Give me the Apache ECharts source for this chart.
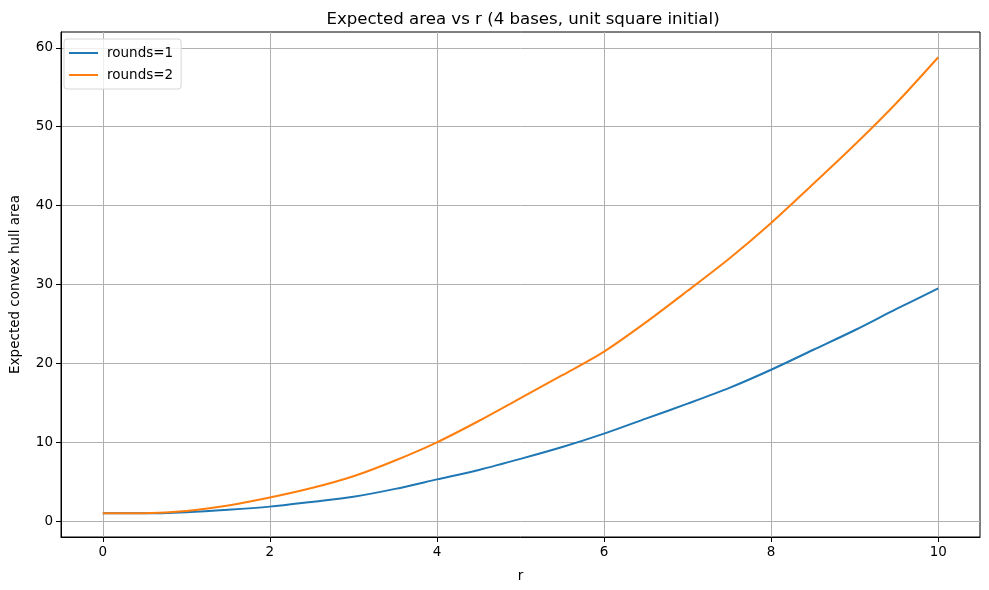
<!DOCTYPE html>
<html>
<head>
<meta charset="utf-8">
<script src="https://cdn.jsdelivr.net/npm/echarts@6/dist/echarts.min.js"></script>
<style>
html,body{margin:0;padding:0;background:#fff;}
#chart{width:989px;height:590px;}
</style>
</head>
<body>
<div id="chart"></div>
<script>
const rValues = [0, 0.5, 1, 1.5, 2, 2.5, 3, 3.5, 4, 4.5, 5, 5.5, 6, 6.5, 7, 7.5, 8, 8.5, 9, 9.5, 10];
const rounds1 = [1.0, 1.0, 1.15, 1.45, 1.85, 2.45, 3.1, 4.1, 5.3, 6.5, 7.9, 9.4, 11.1, 13.0, 14.9, 16.9, 19.2, 21.7, 24.2, 26.9, 29.5];
const rounds2 = [1.0, 1.02, 1.3, 2.0, 3.0, 4.2, 5.7, 7.7, 10.0, 12.7, 15.6, 18.5, 21.5, 25.2, 29.2, 33.3, 37.8, 42.7, 47.7, 53.0, 58.8];
const xTicks = [0, 2, 4, 6, 8, 10];
const yTicks = [0, 10, 20, 30, 40, 50, 60];

const font = 'DejaVu Sans';
const chart = echarts.init(document.getElementById('chart'), null, {renderer: 'canvas'});
const axisCommon = {
  axisLine: {show: true, onZero: false, lineStyle: {color: '#000', width: 1}},
  axisTick: {show: true, inside: false, length: 5, lineStyle: {color: '#000', width: 1}},
  splitLine: {show: true, lineStyle: {color: '#b0b0b0', width: 1}},
  nameTextStyle: {color: '#000', fontFamily: font, fontSize: 13.5}
};
chart.setOption({
  animation: false,
  backgroundColor: '#fff',
  title: {
    text: 'Expected area vs r (4 bases, unit square initial)',
    left: 518, top: 6, textAlign: 'center',
    textStyle: {color: '#000', fontFamily: font, fontSize: 16.6, fontWeight: 'normal'}
  },
  grid: {left: 57, right: 9, top: 32, bottom: 53, show: true, borderColor: '#000', borderWidth: 1, containLabel: false},
  legend: {
    orient: 'vertical', left: 64, top: 39,
    icon: 'rect', itemWidth: 29, itemHeight: 2, itemGap: 8,
    padding: [7, 8, 7, 5],
    borderColor: '#d6d6d6', borderWidth: 1, borderRadius: 3,
    backgroundColor: 'rgba(255,255,255,0.8)',
    textStyle: {color: '#000', fontFamily: font, fontSize: 13.5, padding: [0, 0, 0, 4]},
    data: ['rounds=1', 'rounds=2']
  },
  xAxis: Object.assign({}, axisCommon, {
    type: 'value', min: -0.5, max: 10.5,
    name: 'r', nameLocation: 'middle', nameGap: 32,
    axisTick: Object.assign({}, axisCommon.axisTick, {customValues: xTicks}),
    axisLabel: {customValues: xTicks, color: '#000', fontFamily: font, fontSize: 13.5, margin: 8}
  }),
  yAxis: Object.assign({}, axisCommon, {
    type: 'value', min: -2, max: 62,
    name: 'Expected convex hull area', nameLocation: 'middle', nameGap: 39,
    axisTick: Object.assign({}, axisCommon.axisTick, {customValues: yTicks}),
    axisLabel: {customValues: yTicks, color: '#000', fontFamily: font, fontSize: 13.5, margin: 8}
  }),
  series: [
    {name: 'rounds=1', type: 'line', data: rValues.map((r, i) => [r, rounds1[i]]), smooth: 0.3, showSymbol: false,
     lineStyle: {color: '#1f77b4', width: 2}, itemStyle: {color: '#1f77b4'}},
    {name: 'rounds=2', type: 'line', data: rValues.map((r, i) => [r, rounds2[i]]), smooth: 0.3, showSymbol: false,
     lineStyle: {color: '#ff7f0e', width: 2}, itemStyle: {color: '#ff7f0e'}}
  ]
});
</script>
</body>
</html>
